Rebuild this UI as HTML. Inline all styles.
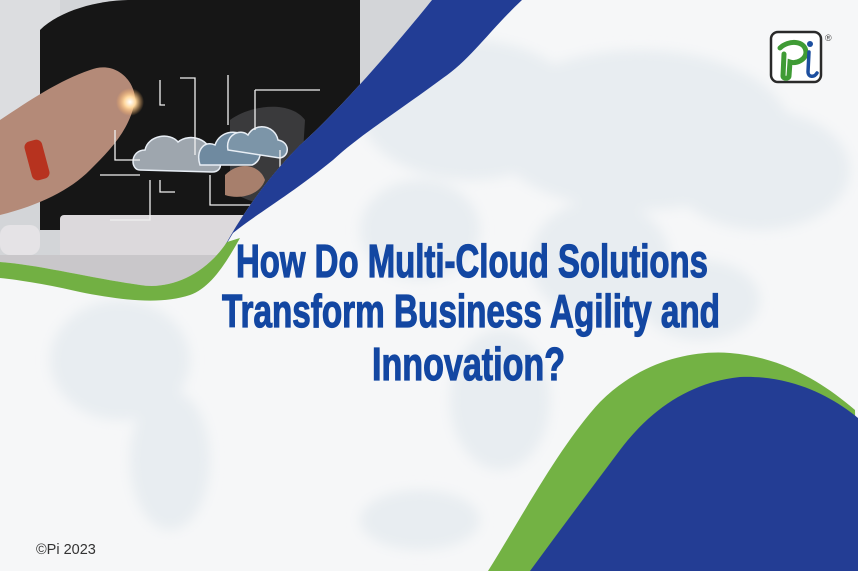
<!DOCTYPE html>
<html><head><meta charset="utf-8"><style>
html,body{margin:0;padding:0;width:858px;height:571px;overflow:hidden;background:#f5f7f8}
svg{display:block}
</style></head><body>
<svg width="858" height="571" viewBox="0 0 858 571" xmlns="http://www.w3.org/2000/svg">
<defs>
<filter id="bl" x="-20%" y="-20%" width="140%" height="140%"><feGaussianBlur stdDeviation="6"/></filter>
<clipPath id="ph"><path d="M0,0 L432,0 C400,40 340,110 300,145 C270,175 245,210 227,242 C205,275 170,290 140,285 C90,278 40,265 0,262 Z"/></clipPath>
<radialGradient id="glow" cx="0.5" cy="0.5" r="0.5"><stop offset="0" stop-color="#fff"/><stop offset="0.4" stop-color="#ffd9a0"/><stop offset="1" stop-color="#ffb060" stop-opacity="0"/></radialGradient>
</defs>
<rect width="858" height="571" fill="#f6f7f8"/>
<g fill="#e8edf1" filter="url(#bl)">
<ellipse cx="470" cy="110" rx="110" ry="70"/>
<ellipse cx="640" cy="130" rx="150" ry="80"/>
<ellipse cx="760" cy="170" rx="90" ry="60"/>
<ellipse cx="420" cy="230" rx="60" ry="50"/>
<ellipse cx="600" cy="260" rx="70" ry="60"/>
<ellipse cx="120" cy="360" rx="70" ry="60"/>
<ellipse cx="170" cy="460" rx="40" ry="70"/>
<ellipse cx="500" cy="400" rx="50" ry="70"/>
<ellipse cx="700" cy="300" rx="60" ry="40"/>
<ellipse cx="420" cy="520" rx="60" ry="30"/>
</g>
<g clip-path="url(#ph)">
<rect width="440" height="300" fill="#d3d5d8"/>
<rect x="0" y="0" width="60" height="140" fill="#dcdde0"/>
<path d="M40,30 C60,10 100,0 130,0 L360,0 L360,230 L40,230 Z" fill="#161616"/>
<path d="M0,120 C30,100 60,80 90,70 C115,60 135,80 135,100 C130,130 110,150 90,170 C70,190 40,205 0,215 Z" fill="#b48a78"/>
<rect x="28" y="140" width="18" height="40" rx="6" fill="#b7331f" transform="rotate(-15 37 160)"/>
<path d="M230,120 C250,105 290,100 305,120 L300,200 C280,210 250,205 230,190 Z" fill="#3a3a3c"/>
<path d="M225,175 C240,160 260,165 265,180 C260,195 240,200 225,195 Z" fill="#a77f6c"/>
<rect x="60" y="215" width="190" height="45" rx="4" fill="#dcd9dc"/>
<rect x="0" y="225" width="40" height="30" rx="10" fill="#e5e3e6"/>
<rect x="0" y="255" width="440" height="50" fill="#c9c7ca"/>
<g fill="#9ea6ae" stroke="#e8eef5" stroke-width="1.5">
<path d="M140,170 C130,170 130,150 145,150 C148,135 170,132 178,142 C190,132 212,140 210,155 C222,155 225,172 212,172 Z"/>
<path d="M200,165 C195,150 205,140 215,145 C220,130 240,128 248,140 C262,140 265,160 252,165 Z" fill="#6f8aa0"/>
<path d="M228,150 C225,135 240,128 248,135 C255,122 275,125 278,140 C290,142 290,156 280,158 Z" fill="#7c95a8"/>
</g>
<g stroke="#f0f0f0" stroke-width="1.3" fill="none">
<path d="M160,80 L160,105 L165,105"/><path d="M180,78 L195,78 L195,155"/><path d="M228,75 L228,125"/>
<path d="M255,90 L320,90"/><path d="M255,90 L255,130"/><path d="M115,130 L115,160 L140,160"/>
<path d="M100,175 L140,175"/><path d="M150,180 L150,220 L110,220"/><path d="M160,180 L160,192 L175,192"/>
<path d="M210,175 L210,205 L280,205 L280,150"/>
</g>
<circle cx="130" cy="102" r="14" fill="url(#glow)"/>
</g>
<path d="M432,0 L522,0 C490,30 470,60 443,78 C400,110 360,135 333,160 C290,195 255,215 233,233 L218,258 C222,250 225,245 227,242 C245,210 270,175 300,145 C340,110 400,40 432,0 Z" fill="#223d95"/>
<path d="M0,262 C40,265 90,278 140,285 C170,290 205,275 227,242 L240,238 C225,265 210,288 190,295 C160,305 120,300 80,292 C50,285 20,280 0,278 Z" fill="#72b043"/>
<path d="M488,571 C520,520 560,445 600,402 C640,362 690,350 730,353 C780,357 820,380 855,410 L858,571 Z" fill="#73b244"/>
<path d="M530,571 C560,530 590,490 620,450 C650,410 690,382 740,377 C790,375 830,395 858,418 L858,571 Z" fill="#233d94"/>
<g font-family="'Liberation Sans Narrow','Liberation Sans',sans-serif" font-weight="bold" font-size="46" fill="#1347a2" stroke="#1347a2" stroke-width="1.2">
<text x="236" y="277" textLength="472" lengthAdjust="spacingAndGlyphs">How Do Multi-Cloud Solutions</text>
<text x="222" y="327" textLength="498" lengthAdjust="spacingAndGlyphs">Transform Business Agility and</text>
<text x="372" y="380" textLength="193" lengthAdjust="spacingAndGlyphs">Innovation?</text>
</g>
<rect x="771" y="32" width="50" height="50" rx="7" fill="#fff" stroke="#2a2a2a" stroke-width="2.5"/>
<path d="M780,48 C788,40 805,40 806,52 C806,60 796,64 790,62 L789,76 C789,79 783,79 783,76 L784,54" fill="none" stroke="#3f9b35" stroke-width="5" stroke-linecap="round"/>
<circle cx="810" cy="44" r="3" fill="#1d4f9f"/>
<path d="M809,52 L808,72 C808,77 814,78 817,73" fill="none" stroke="#1d4f9f" stroke-width="3.5" stroke-linecap="round"/>
<text x="825" y="41" font-family="'Liberation Sans',sans-serif" font-size="9" fill="#444">®</text>
<text x="36" y="554" font-family="'Liberation Sans',sans-serif" font-size="14.5" fill="#333">©Pi 2023</text>
</svg>
</body></html>
